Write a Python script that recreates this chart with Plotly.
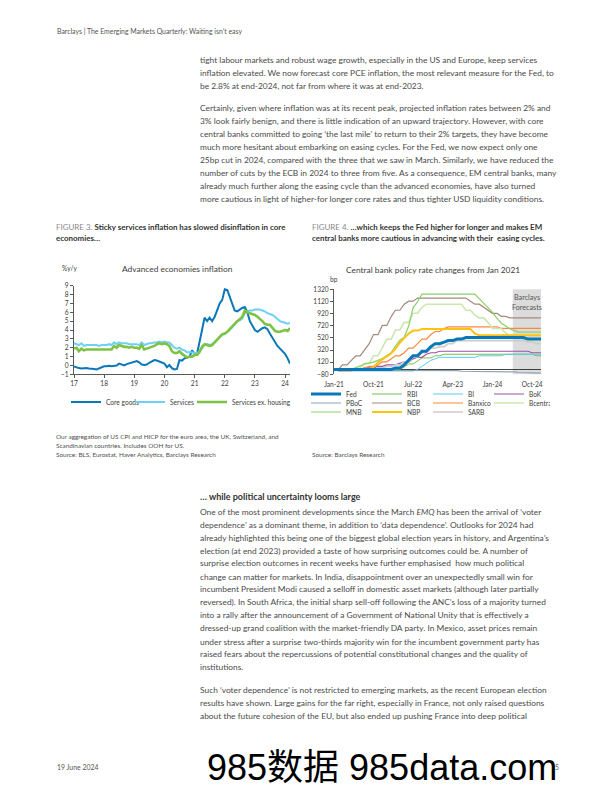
import pandas as pd
import plotly.graph_objects as go

# ---------------- Data: Figure 3 (monthly, Jan 2017 - Mar 2024) ----------------
core_goods = [
    -0.1, -0.25, -0.3, -0.35, -0.3, -0.3, -0.35, -0.35, -0.4, -0.45, -0.35, -0.2,
    -0.1, -0.1, -0.05, -0.1, -0.05, 0.0, 0.2, 0.1, 0.0, 0.15, 0.25, 0.35,
    0.45, 0.5, 0.35, 0.1, 0.05, 0.1, 0.3, 0.45, 0.6, 0.55, 0.4, 0.3,
    0.2, -0.2, 0.05, -0.3, -0.45, -0.4, 0.6, 0.55, 0.8, 0.9, 1.0, 1.7,
    1.3, 1.4, 2.5, 4.0, 5.4, 5.0, 5.4, 5.0, 5.5, 6.2, 7.0, 7.4,
    8.6, 8.5, 7.8, 7.0, 6.2, 6.1, 6.3, 6.5, 6.6, 6.0, 5.0, 4.5,
    4.0, 3.8, 4.0, 4.2, 4.3, 4.1, 3.6, 3.1, 2.6, 2.2, 1.9, 1.6,
    1.3, 0.8, 0.2,
]
services = [
    2.5, 2.4, 2.3, 2.5, 2.2, 2.3, 2.3, 2.3, 2.3, 2.3, 2.2, 2.3,
    2.3, 2.3, 2.4, 2.3, 2.6, 2.4, 2.6, 2.5, 2.5, 2.5, 2.4, 2.4,
    2.4, 2.4, 2.3, 2.6, 2.3, 2.4, 2.5, 2.5, 2.6, 2.6, 2.7, 2.6,
    2.7, 2.6, 2.6, 2.3, 2.0, 1.9, 2.0, 1.8, 1.7, 1.5, 1.5, 1.5,
    1.4, 1.4, 1.6, 2.0, 2.3, 2.4, 2.3, 2.4, 2.7, 3.0, 3.3, 3.5,
    3.6, 3.8, 4.0, 4.3, 4.7, 5.0, 5.1, 5.3, 5.9, 6.1, 6.2, 6.2,
    6.3, 6.3, 6.3, 6.2, 6.1, 5.9, 5.8, 5.7, 5.5, 5.2, 5.0, 4.9,
    4.8, 4.7, 4.8,
]
services_ex_housing = [
    1.9, 2.0, 1.6, 1.9, 1.7, 1.8, 1.8, 1.8, 1.75, 1.8, 1.75, 1.8,
    1.8, 1.8, 1.8, 1.8, 2.2, 2.0, 2.3, 2.2, 2.1, 2.1, 2.0, 2.1,
    2.0, 2.0, 1.9, 2.3, 1.8, 1.9, 2.0, 2.1, 2.2, 2.4, 2.5, 2.4,
    2.5, 2.4, 2.2, 1.6, 1.4, 1.4, 1.6, 1.3, 1.1, 0.9, 1.0, 1.0,
    1.2, 1.2, 1.5, 2.1, 2.4, 2.3, 2.2, 2.3, 2.6, 2.9, 3.3, 3.5,
    3.6, 3.8, 4.1, 4.4, 4.8, 5.0, 5.2, 5.5, 6.2, 6.0, 5.9, 5.8,
    5.7, 5.5, 5.3, 5.0, 4.7, 4.6, 4.6, 4.2, 3.9, 3.8, 3.8, 3.9,
    4.0, 3.9, 4.2,
]
dates3 = pd.date_range("2017-01-01", periods=len(core_goods), freq="MS")

# ---------------- Data: Figure 4 (monthly bp change from Jan 2021, Jan 2021 - Dec 2024) ----------------
fed = [0]*12 + [0, 0, 25, 25, 75, 150, 225, 225, 300, 300, 375, 425] + \
      [425, 450, 475, 475, 500, 500, 525, 525, 525, 525, 525, 525] + \
      [525, 525, 525, 525, 525, 525, 525, 525, 500, 500, 500, 500]
rbi = [0]*12 + [0, 0, 0, 0, 40, 90, 90, 140, 190, 190, 190, 225] + \
      [225] + [250]*11 + [250]*10 + [225, 225]
bi = [0] + [-25]*11 + [-25]*7 + [0, 50, 100, 150, 175] + \
     [200]*9 + [225]*3 + [225]*3 + [250]*9
bok = [0]*7 + [25, 25, 25, 50, 50] + [75, 75, 75, 100, 125, 125, 175, 200, 200, 250, 275, 275] + \
      [300]*12 + [300]*9 + [275]*3
pboc = [0]*11 + [-5] + [-15]*7 + [-20]*5 + [-20]*5 + [-30, -30] + [-40]*5 + \
       [-40]*6 + [-50]*3 + [-60]*3
bcb = [0, 0, 75, 75, 150, 225, 225, 325, 425, 575, 575, 725] + \
      [725, 875, 975, 975, 1075, 1125, 1125, 1175, 1175, 1175, 1175, 1175] + \
      [1175]*7 + [1125, 1075, 1075, 1025, 975] + \
      [925, 925, 875, 875, 850, 850, 850, 850, 850, 850, 850, 850]
banxico = [0, -25, -25, -25, -25, 0, 0, 25, 50, 50, 75, 125] + \
          [125, 175, 225, 225, 275, 350, 350, 425, 500, 500, 575, 625] + \
          [625, 675] + [700]*10 + [700, 700] + [675]*10
bcentral = [0]*6 + [25, 100, 100, 225, 225, 350] + \
           [500, 500, 650, 650, 775, 775, 925, 925, 1025, 1075, 1075, 1075] + \
           [1075]*6 + [975, 975, 900, 850, 850, 775] + \
           [675, 675, 675, 600, 550, 525, 525, 500, 500, 475, 450, 425]
mnb = [0]*5 + [30, 60, 90, 105, 120, 150, 180] + \
      [230, 280, 380, 480, 530, 715, 1015, 1115, 1240, 1240, 1240, 1240] + \
      [1240]*9 + [1165, 1090, 1015] + \
      [940, 840, 765, 715, 665, 640, 615, 615, 615, 615, 615, 615]
nbp = [0]*9 + [40, 115, 165] + \
      [215, 265, 340, 440, 515, 590, 640, 640, 665, 665, 665, 665] + \
      [665]*8 + [590, 565, 565, 565] + [565]*12
sarb = [0]*10 + [25, 25] + [50, 50, 75, 75, 125, 125, 200, 200, 275, 275, 350, 350] + \
       [375, 375, 425, 425] + [475]*8 + [475]*8 + [450, 450, 425, 425]
dates4 = pd.date_range("2021-01-01", periods=48, freq="MS")

cb_series = [
    ("Fed", fed, "#0a77b8", 3.0, "legend2"),
    ("RBI", rbi, "#76c04e", 1.0, "legend2"),
    ("BI", bi, "#5cc9f3", 1.0, "legend2"),
    ("BoK", bok, "#9b55a3", 1.2, "legend2"),
    ("PBoC", pboc, "#8ea3b5", 1.2, "legend3"),
    ("BCB", bcb, "#a3887c", 1.2, "legend3"),
    ("Banxico", banxico, "#f58a3c", 1.2, "legend3"),
    ("Bcentral", bcentral, "#cbe7b0", 1.6, "legend3"),
    ("MNB", mnb, "#8ccf68", 1.2, "legend4"),
    ("NBP", nbp, "#ffc20e", 2.0, "legend4"),
    ("SARB", sarb, "#cccccc", 1.6, "legend4"),
]

FONT = "Lato"
BODY = "#4a4a4a"
W, H = 612, 792


def px(x):
    return x / W


def py(y):
    return 1 - y / H


fig = go.Figure()

# Figure 3 traces
fig.add_trace(go.Scatter(x=dates3, y=core_goods, name="Core goods", mode="lines",
                         line=dict(color="#0a77b8", width=2.0), xaxis="x", yaxis="y",
                         legend="legend", legendwidth=19))
fig.add_trace(go.Scatter(x=dates3, y=services, name="Services", mode="lines",
                         line=dict(color="#6dd0f5", width=2.0), xaxis="x", yaxis="y",
                         legend="legend", legendwidth=17))
fig.add_trace(go.Scatter(x=dates3, y=services_ex_housing, name="Services ex. housing", mode="lines",
                         line=dict(color="#7dc243", width=2.6), xaxis="x", yaxis="y",
                         legend="legend", legendwidth=70))

# Figure 4 traces
cb_traces = []
for rank, (name, vals, col, wd, lg) in enumerate(cb_series):
    cb_traces.append(go.Scatter(x=dates4, y=vals, name=name, mode="lines",
                                line=dict(color=col, width=wd), xaxis="x2", yaxis="y2",
                                legend=lg, legendrank=rank + 1))
# Fed drawn last so it sits on top
for t in cb_traces[1:] + cb_traces[:1]:
    fig.add_trace(t)

axis_font = dict(family=FONT, size=6.6, color="#404040")

fig.update_layout(
    width=W, height=H,
    margin=dict(l=0, r=0, t=0, b=0, pad=0, autoexpand=False),
    paper_bgcolor="white", plot_bgcolor="white",
    font=dict(family=FONT, color=BODY),
    xaxis=dict(domain=[px(74), px(290)], range=["2017-01-01", "2024-03-01"],
               tickformat="%y", dtick="M12", tick0="2017-01-01",
               showline=True, linecolor="#595959", linewidth=1,
               ticks="outside", ticklen=3, tickcolor="#595959",
               showgrid=False, zeroline=False, tickfont=axis_font, anchor="y"),
    yaxis=dict(domain=[py(374.3), py(285.7)], range=[-1, 9], dtick=1,
               showline=True, linecolor="#595959", linewidth=1,
               ticks="outside", ticklen=3, tickcolor="#595959",
               showgrid=False, zeroline=False, tickfont=axis_font, anchor="x"),
    xaxis2=dict(domain=[px(334), px(541)], range=["2021-01-01", "2024-12-01"],
                tickformat="%b-%y", dtick="M9", tick0="2021-01-01",
                showline=False, ticks="outside", ticklen=4, tickcolor="rgba(0,0,0,0)",
                showgrid=False, zeroline=False, tickfont=axis_font, anchor="y2"),
    yaxis2=dict(domain=[py(374.3), py(289.3)], range=[-80, 1320], dtick=200, tick0=-80,
                showline=True, linecolor="#595959", linewidth=1,
                ticks="outside", ticklen=3, tickcolor="#595959",
                showgrid=False, zeroline=True, zerolinecolor="#404040", zerolinewidth=1.2,
                tickfont=axis_font, anchor="x2"),
    showlegend=True,
)

leg_common = dict(orientation="h", xanchor="left", yanchor="middle",
                  font=dict(family=FONT, size=6.6, color="#404040"),
                  bgcolor="rgba(0,0,0,0)", itemwidth=30, tracegroupgap=0, borderwidth=0,
                  entrywidthmode="pixels", itemclick=False, itemdoubleclick=False)
fig.update_layout(
    legend=dict(leg_common, x=px(66), y=py(402)),
    legend2=dict(leg_common, x=px(306), y=py(394), entrywidth=16),
    legend3=dict(leg_common, x=px(306), y=py(403), entrywidth=16),
    legend4=dict(leg_common, x=px(306), y=py(412), entrywidth=16),
)

# Forecast shading
fig.add_shape(type="rect", xref="x2", yref="y2 domain", x0="2024-05-20", x1="2024-12-01",
              y0=0, y1=1, fillcolor="#dcdcdc", line_width=0, layer="below")

ann = []


def text(x, y, s, size=8.4, color=BODY, anchor="left", bold=False, family=FONT):
    if bold:
        s = "<b>" + s + "</b>"
    ann.append(dict(x=px(x), y=py(y), xref="paper", yref="paper", text=s, showarrow=False,
                    xanchor=anchor, yanchor="middle",
                    font=dict(family=family, size=size, color=color)))


# Header
text(55, 31, "Barclays | The Emerging Markets Quarterly: Waiting isn’t easy", size=6.9, color="#555555")

# Top body text
top_p1 = [
    "tight labour markets and robust wage growth, especially in the US and Europe, keep services",
    "inflation elevated. We now forecast core PCE inflation, the most relevant measure for the Fed, to",
    "be 2.8% at end-2024, not far from where it was at end-2023.",
]
top_p1_y = [60, 73, 85.7]
top_p2 = [
    "Certainly, given where inflation was at its recent peak, projected inflation rates between 2% and",
    "3% look fairly benign, and there is little indication of an upward trajectory. However, with core",
    "central banks committed to going ‘the last mile’ to return to their 2% targets, they have become",
    "much more hesitant about embarking on easing cycles. For the Fed, we now expect only one",
    "25bp cut in 2024, compared with the three that we saw in March. Similarly, we have reduced the",
    "number of cuts by the ECB in 2024 to three from five. As a consequence, EM central banks, many",
    "already much further along the easing cycle than the advanced economies, have also turned",
    "more cautious in light of higher-for longer core rates and thus tighter USD liquidity conditions.",
]
top_p2_y = [108.3, 121, 134, 147.3, 160, 173.3, 186, 198.7]
for s, y in zip(top_p1 + top_p2, top_p1_y + top_p2_y):
    text(198, y, s)

# Figure titles
TS = 7.95
text(54, 227, "<span style='color:#8a8a8a'>FIGURE 3.</span> <b>Sticky services inflation has slowed disinflation in core</b>",
     size=TS, color="#333333")
text(54, 238, "economies…", size=TS, color="#333333", bold=True)
text(310, 227, "<span style='color:#8a8a8a'>FIGURE 4.</span> <b>…which keeps the Fed higher for longer and makes EM</b>",
     size=TS, color="#333333")
text(310, 238, "central banks more cautious in advancing with their  easing cycles.", size=TS,
     color="#333333", bold=True)

# Chart titles and units
text(177, 269, "Advanced economies inflation", size=8.4, color="#404040", anchor="center")
text(60, 268, "%y/y", size=6.6, color="#404040")
text(433, 270, "Central bank policy rate changes from Jan 2021", size=8.4, color="#404040", anchor="center")
text(328, 279, "bp", size=6.6, color="#404040")
text(527, 297.5, "Barclays", size=7.2, color="#555555", anchor="center")
text(527, 307.5, "Forecasts", size=7.2, color="#555555", anchor="center")

# Footnotes / sources
FS = 6.4
text(54, 436.7, "Our aggregation of US CPI and HICP for the euro area, the UK, Switzerland, and", size=FS, color="#505050")
text(54, 445.7, "Scandinavian countries. Includes OOH for US.", size=FS, color="#505050")
text(54, 454.5, "Source: BLS, Eurostat, Haver Analytics, Barclays Research", size=FS, color="#505050")
text(310, 454.5, "Source: Barclays Research", size=FS, color="#505050")

# Bottom section
text(198, 497, "… while political uncertainty looms large", size=9.0, color="#333333", bold=True)
bot_p1 = [
    "One of the most prominent developments since the March <i>EMQ</i> has been the arrival of ‘voter",
    "dependence’ as a dominant theme, in addition to ‘data dependence’. Outlooks for 2024 had",
    "already highlighted this being one of the biggest global election years in history, and Argentina’s",
    "election (at end 2023) provided a taste of how surprising outcomes could be. A number of",
    "surprise election outcomes in recent weeks have further emphasised  how much political",
    "change can matter for markets. In India, disappointment over an unexpectedly small win for",
    "incumbent President Modi caused a selloff in domestic asset markets (although later partially",
    "reversed). In South Africa, the initial sharp sell-off following the ANC’s loss of a majority turned",
    "into a rally after the announcement of a Government of National Unity that is effectively a",
    "dressed-up grand coalition with the market-friendly DA party. In Mexico, asset prices remain",
    "under stress after a surprise two-thirds majority win for the incumbent government party has",
    "raised fears about the repercussions of potential constitutional changes and the quality of",
    "institutions.",
]
bot_p1_y = [512.3, 525, 537.7, 550.7, 563.3, 576.7, 589.3, 602.3, 615.3, 628.3, 641.7, 654.3, 667.3]
bot_p2 = [
    "Such ‘voter dependence’ is not restricted to emerging markets, as the recent European election",
    "results have shown. Large gains for the far right, especially in France, not only raised questions",
    "about the future cohesion of the EU, but also ended up pushing France into deep political",
]
bot_p2_y = [690, 702.7, 715.7]
for s, y in zip(bot_p1 + bot_p2, bot_p1_y + bot_p2_y):
    text(198, y, s)

# Footer
text(55, 767, "19 June 2024", size=6.9, color="#555555")
text(553, 767, "5", size=6.9, color="#555555")
text(205, 767, "985数据 985data.com", size=36, color="#000000", family="Liberation Sans, Noto Sans CJK SC")

fig.update_layout(annotations=ann)
fig.write_html("out.html",
               config={"displayModeBar": False, "staticPlot": True},
               post_script="document.body.style.margin='0px';document.body.style.overflow='hidden';")
